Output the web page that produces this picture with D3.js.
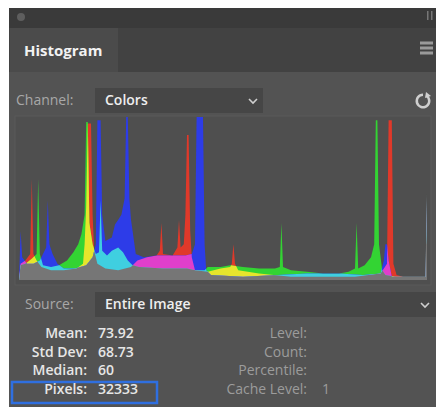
<!DOCTYPE html>
<html>
<head>
<meta charset="utf-8">
<script src="https://cdn.jsdelivr.net/npm/d3@7"></script>
<style>
  body { margin: 0; background: #fff; }
  svg { display: block; }
  text { font-family: "Open Sans", "DejaVu Sans", sans-serif; }
</style>
</head>
<body>
<svg id="chart" width="436" height="407"></svg>
<script>
// histogram channels: [level, percent of full height]
const redPoints = [
  [0,0],[1,10],[4,12],[7,16],[8,62],[9,16],[11,12],[14,8],[20,6],[28,6],[36,7],[40,10],[41,22],[42,45],
  [43,96],[45,96],[46,40],[47,18],[49,10],[54,7],[62,6],[70,8],[74,12],[80,14],[86,15],[88,18],[89,35],
  [90,16],[96,15],[99,20],[100,37],[101,20],[103,22],[104,40],[105,89],[106,89],[107,30],[108,14],[110,6],
  [118,5],[126,7],[132,8],[133,10],[134,22],[135,10],[137,6],[150,4],[170,2],[210,2],[226,4],[230,10],
  [231,98],[233,98],[234,10],[236,3],[240,2],[254,2],[255,53]
];
const greenPoints = [
  [0,0],[1,9],[4,10],[8,13],[11,16],[12,62],[13,16],[15,9],[20,8],[25,9],[30,12],[34,17],[37,22],[39,28],
  [41,40],[42,97],[43,97],[44,35],[46,22],[48,16],[50,17],[51,49],[52,18],[55,15],[58,18],[62,20],[65,17],
  [68,12],[71,9],[75,8],[90,7],[105,7],[110,6],[116,6],[118,8],[126,8],[132,9],[140,8],[150,7],[160,7],
  [163,8],[164,35],[165,8],[170,6],[180,5],[190,4],[200,4],[206,5],[210,7],[211,35],[212,7],[216,9],
  [220,14],[222,22],[223,98],[224,98],[225,22],[227,6],[229,3],[235,2],[254,2],[255,53]
];
const bluePoints = [
  [0,0],[1,30],[2,14],[5,10],[9,10],[13,12],[15,16],[17,20],[18,49],[19,22],[21,16],[24,10],[28,7],[35,7],
  [42,9],[46,14],[48,22],[49,98],[51,98],[52,40],[54,24],[58,26],[60,34],[62,37],[64,40],[66,50],[67,100],
  [68,100],[69,50],[70,37],[71,30],[73,16],[78,14],[86,15],[96,15],[104,15],[108,16],[110,22],[111,100],
  [115,100],[116,22],[117,6],[120,3],[140,2],[180,4],[200,4],[215,3],[226,4],[228,12],[229,22],[230,22],
  [231,12],[233,2],[254,2],[255,53]
];

const channelOptions = ["Colors"];
const sourceOptions = ["Entire Image"];
const statLabels = ["Mean:", "Std Dev:", "Median:", "Pixels:"];
const statValues = ["73.92", "68.73", "60", "32333"];
const infoLabels = ["Level:", "Count:", "Percentile:", "Cache Level:"];
const infoValues = ["", "", "", "1"];

const svg = d3.select('#chart');

// panel chrome
svg.append('rect').attr('x', 9).attr('y', 8).attr('width', 427).attr('height', 399).attr('fill', '#535353');
svg.append('rect').attr('x', 9).attr('y', 8).attr('width', 427).attr('height', 20).attr('fill', '#3a3a3a');
svg.append('circle').attr('cx', 21).attr('cy', 17).attr('r', 4).attr('fill', '#5e5e5e');
svg.append('rect').attr('x', 427).attr('y', 11).attr('width', 1.5).attr('height', 9).attr('fill', '#777');
svg.append('rect').attr('x', 431).attr('y', 11).attr('width', 1.5).attr('height', 9).attr('fill', '#777');

// tab bar
svg.append('rect').attr('x', 9).attr('y', 28).attr('width', 427).attr('height', 44).attr('fill', '#424242');
svg.append('rect').attr('x', 10).attr('y', 28).attr('width', 108).attr('height', 44).attr('fill', '#4b4b4b');
svg.append('text').attr('x', 24).attr('y', 56).text('Histogram')
  .attr('fill', '#f2f2f2').attr('font-size', 15).attr('font-weight', 700);
// panel menu icon
[43, 48, 53].forEach(yy => {
  svg.append('rect').attr('x', 420).attr('y', yy - 1.5).attr('width', 13).attr('height', 3).attr('fill', '#9a9a9a');
});

// channel row
svg.append('text').attr('x', 16).attr('y', 105).text('Channel:')
  .attr('fill', '#a8a8a8').attr('font-size', 14);
svg.append('rect').attr('x', 95).attr('y', 88).attr('width', 168).attr('height', 25).attr('fill', '#464646');
svg.append('text').attr('x', 105).attr('y', 105).text(channelOptions[0])
  .attr('fill', '#eeeeee').attr('font-size', 14).attr('font-weight', 600);
svg.append('path').attr('d', 'M249,99 l4,4 l4,-4').attr('fill', 'none').attr('stroke', '#cfcfcf').attr('stroke-width', 1.6);
// refresh icon
svg.append('path').attr('d', d3.arc()({ innerRadius: 5, outerRadius: 7.5, startAngle: 0.6, endAngle: 2 * Math.PI }))
  .attr('transform', 'translate(423,101)').attr('fill', '#cfcfcf');
svg.append('path').attr('d', 'M426,92 l5,4 l-6,2 z').attr('fill', '#cfcfcf');

// histogram
const x = d3.scaleLinear().domain([0, 255]).range([19, 427]);
const y = d3.scaleLinear().domain([0, 100]).range([280, 117]);

svg.append('rect').attr('x', 15).attr('y', 116).attr('width', 416).attr('height', 169)
  .attr('fill', '#4f4f4f').attr('stroke', '#5a5a5a');

const area = d3.area()
  .x(d => x(d[0]))
  .y0(y(0))
  .y1(d => y(d[1]))
  .curve(d3.curveLinear);

const channels = [
  { id: 'r', data: redPoints, color: '#e0392a' },
  { id: 'g', data: greenPoints, color: '#33d433' },
  { id: 'b', data: bluePoints, color: '#2d3ce8' }
];

const defs = svg.append('defs');
channels.forEach(c => {
  defs.append('clipPath').attr('id', 'clip-' + c.id)
    .append('path').attr('d', area(c.data));
});

const hist = svg.append('g').attr('class', 'histogram');

// single channels
channels.forEach(c => {
  hist.append('path').attr('d', area(c.data)).attr('fill', c.color);
});

// two-channel overlaps
const pairs = [
  { a: redPoints, clip: 'g', color: '#e6e52c' },   // red + green
  { a: redPoints, clip: 'b', color: '#e03fcb' },   // red + blue
  { a: greenPoints, clip: 'b', color: '#3fcfe0' }  // green + blue
];
pairs.forEach(p => {
  hist.append('path').attr('d', area(p.a)).attr('fill', p.color)
    .attr('clip-path', `url(#clip-${p.clip})`);
});

// all three channels
hist.append('g').attr('clip-path', 'url(#clip-b)')
  .append('path').attr('d', area(redPoints)).attr('fill', '#767676')
  .attr('clip-path', 'url(#clip-g)');

// source row
svg.append('text').attr('x', 25).attr('y', 309).text('Source:')
  .attr('fill', '#a8a8a8').attr('font-size', 14);
svg.append('rect').attr('x', 95).attr('y', 292).attr('width', 341).attr('height', 25).attr('fill', '#464646');
svg.append('text').attr('x', 105).attr('y', 309).text(sourceOptions[0])
  .attr('fill', '#eeeeee').attr('font-size', 14).attr('font-weight', 600);
svg.append('path').attr('d', 'M421,303 l4,4 l4,-4').attr('fill', 'none').attr('stroke', '#cfcfcf').attr('stroke-width', 1.6);

// stats
const rowY = [338, 357, 375, 394];

svg.append('rect').attr('x', 12).attr('y', 382).attr('width', 145).attr('height', 21)
  .attr('fill', 'none').attr('stroke', '#2f6fe0').attr('stroke-width', 2.5);

statLabels.forEach((t, i) => {
  svg.append('text').attr('x', 87).attr('y', rowY[i]).attr('text-anchor', 'end').text(t)
    .attr('fill', '#e6e6e6').attr('font-size', 14).attr('font-weight', 600);
  svg.append('text').attr('x', 98).attr('y', rowY[i]).text(statValues[i])
    .attr('fill', '#e6e6e6').attr('font-size', 14).attr('font-weight', 600);
});

infoLabels.forEach((t, i) => {
  svg.append('text').attr('x', 307).attr('y', rowY[i]).attr('text-anchor', 'end').text(t)
    .attr('fill', '#9c9c9c').attr('font-size', 14);
  if (infoValues[i]) {
    svg.append('text').attr('x', 322).attr('y', rowY[i]).text(infoValues[i])
      .attr('fill', '#9c9c9c').attr('font-size', 14);
  }
});
</script>
</body>
</html>
